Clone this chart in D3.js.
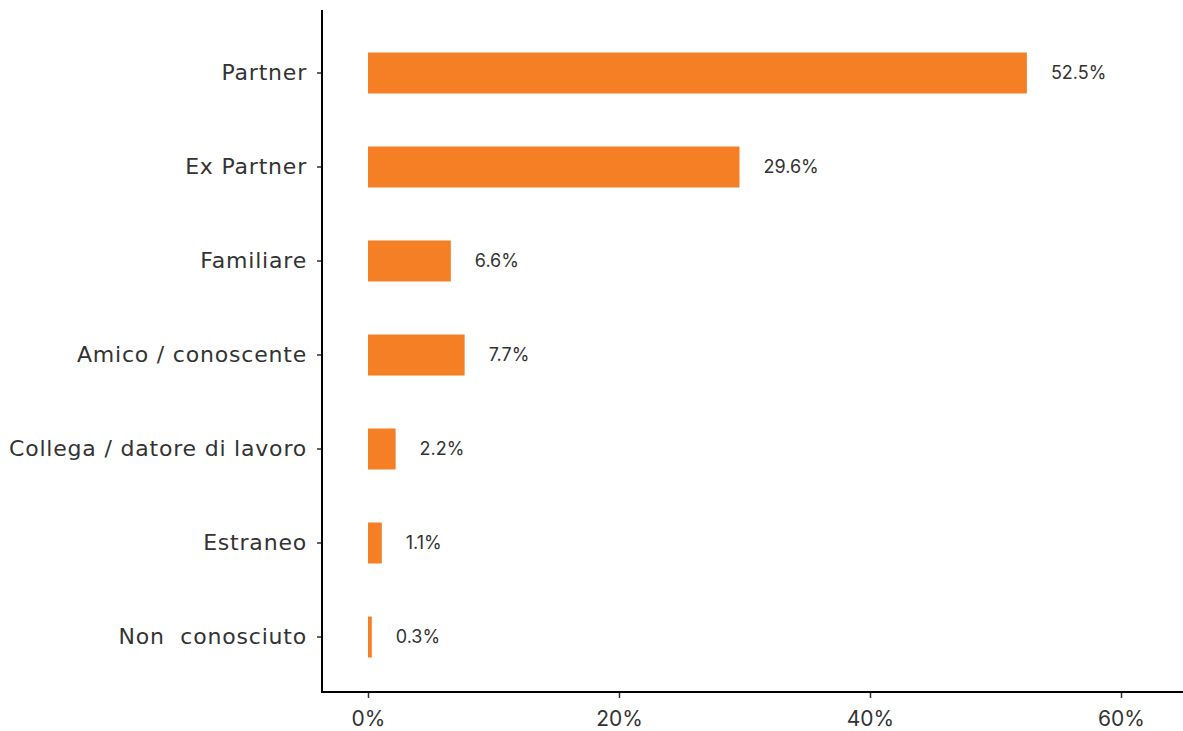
<!DOCTYPE html>
<html>
<head>
<meta charset="utf-8">
<script src="https://cdn.jsdelivr.net/npm/d3@7"></script>
<style>
  html, body { margin: 0; padding: 0; background: #fff; }
  svg { display: block; }
  text { font-family: Inter, "Open Sans", sans-serif; white-space: pre; }
  .cat text { font-family: "DejaVu Sans", sans-serif; letter-spacing: 0.8px; }
</style>
</head>
<body>
<svg id="chart" width="1183" height="731"></svg>
<script>
// Relationship of the perpetrator to the victim (% of cases)
const categories = ["Partner", "Ex Partner", "Familiare", "Amico / conoscente",
  "Collega / datore di lavoro", "Estraneo", "Non  conosciuto"];
const values = [52.5, 29.6, 6.6, 7.7, 2.2, 1.1, 0.3];
const tickValues = [0, 20, 40, 60];

const svg = d3.select("#chart");
const W = 1183, H = 731;
const axisX = 322, axisY = 692, plotTop = 10;

const x = d3.scaleLinear().domain([0, 60]).range([368, 1121]);
const y = d3.scaleBand().domain(categories).range([26, 684])
  .paddingInner(0.564).paddingOuter(0.282);

const data = categories.map((c, i) => ({ c, v: values[i] }));

// bars
svg.append("g").selectAll("rect").data(data).join("rect")
  .attr("x", x(0))
  .attr("y", d => y(d.c))
  .attr("width", d => x(d.v) - x(0))
  .attr("height", y.bandwidth())
  .attr("fill", "#F47F24");

// value labels
svg.append("g").selectAll("text").data(data).join("text")
  .attr("x", d => x(d.v) + 24)
  .attr("y", d => y(d.c) + y.bandwidth() / 2)
  .attr("dy", "0.35em")
  .attr("font-size", 18)
  .attr("fill", "#333")
  .text(d => d.v.toFixed(1) + "%");

// y axis
const yAxis = svg.append("g").attr("class", "cat").attr("transform", `translate(${axisX},0)`)
  .call(d3.axisLeft(y).tickSize(5).tickPadding(10));
yAxis.select(".domain").remove();
yAxis.append("line").attr("x1", 0).attr("x2", 0).attr("y1", plotTop).attr("y2", axisY + 1)
  .attr("stroke", "#000").attr("stroke-width", 2);
yAxis.selectAll(".tick line").attr("stroke", "#333").attr("stroke-width", 1.5);
yAxis.selectAll(".tick text").attr("font-size", 22).attr("fill", "#333");

// x axis
const xAxis = svg.append("g").attr("transform", `translate(0,${axisY})`)
  .call(d3.axisBottom(x).tickValues(tickValues).tickFormat(d => d + "%")
    .tickSize(6).tickPadding(13));
xAxis.select(".domain").remove();
xAxis.append("line").attr("x1", axisX - 1).attr("x2", W).attr("y1", 0).attr("y2", 0)
  .attr("stroke", "#000").attr("stroke-width", 2);
xAxis.selectAll(".tick line").attr("stroke", "#333").attr("stroke-width", 1.5);
xAxis.selectAll(".tick text").attr("font-size", 21).attr("fill", "#333");
</script>
</body>
</html>
